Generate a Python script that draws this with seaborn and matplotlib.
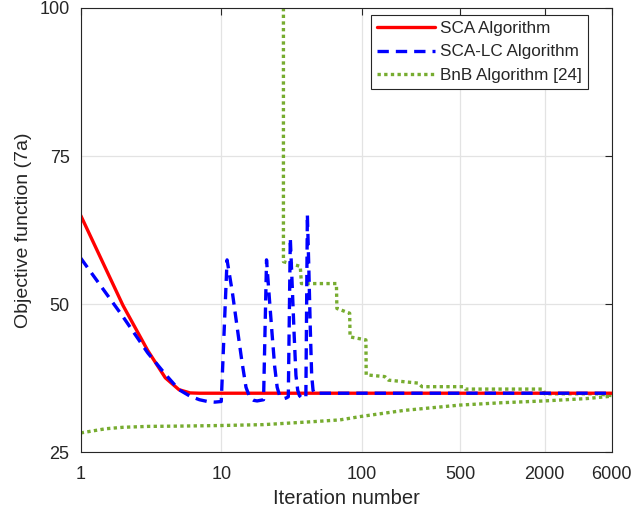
import numpy as np
import pandas as pd
import matplotlib
matplotlib.use("Agg")
import matplotlib.pyplot as plt
from matplotlib.ticker import FixedLocator, FixedFormatter, NullLocator
from matplotlib.lines import Line2D
import seaborn as sns

# SCA algorithm: objective value per iteration
sca_iter = [1, 2, 3, 4, 5, 6, 7, 6000]
sca_obj = [65.0, 49.8, 42.2, 37.6, 35.6, 35.05, 35.0, 35.0]

# SCA-LC algorithm: objective value per iteration
sclc_iter = [1, 2, 3, 4, 5, 6, 7, 8, 9, 10,
             11, 12, 13, 14, 15, 16, 17, 18, 19, 20,
             21, 22, 23, 24, 25, 26, 27, 28, 29, 30,
             31, 32, 33, 34, 35, 36, 37, 38, 39, 40,
             41, 42, 43, 44, 45, 46, 6000]
sclc_obj = [57.8, 47.9, 41.8, 38.2, 35.6, 34.5, 33.9, 33.6, 33.5, 33.6,
            57.5, 52.0, 46.0, 40.5, 36.0, 34.2, 33.8, 33.7, 33.8, 33.9,
            57.5, 51.0, 45.0, 39.5, 36.0, 34.6, 34.2, 34.1, 34.2, 34.4,
            61.2, 53.0, 45.0, 38.0, 35.5, 34.6, 34.3, 34.2, 34.2, 34.2,
            65.2, 56.0, 46.0, 38.0, 35.5, 35.0, 35.0]

# BnB algorithm [24]: upper bound (step-wise) and lower bound
bnb_up_iter = [27.7, 27.7, 36.5, 37.2, 66.0, 66.5, 82.0, 82.5, 107.0, 107.5,
               146, 155, 253, 268, 530, 545, 1950, 2000, 4700, 6000]
bnb_up_obj = [100.0, 57.2, 56.4, 53.5, 53.5, 49.3, 48.5, 44.5, 44.0, 38.1,
              37.8, 37.2, 36.7, 36.1, 36.1, 35.7, 35.7, 34.9, 34.9, 34.6]
bnb_lo_iter = [1, 1.5, 2, 3, 5, 10, 20, 45, 70, 100, 200, 500, 1000, 2000, 4000, 6000]
bnb_lo_obj = [28.3, 29.0, 29.25, 29.4, 29.45, 29.55, 29.7, 30.2, 30.5, 31.1,
              32.1, 33.0, 33.4, 33.7, 34.1, 34.5]

x_ticks = [1, 10, 100, 500, 2000, 6000]
x_tick_labels = ["1", "10", "100", "500", "2000", "6000"]
y_ticks = [25, 50, 75, 100]

labels = ["SCA Algorithm", "SCA-LC Algorithm", "BnB Algorithm [24]"]

sns.set_theme(style="white")
plt.rcParams["font.family"] = ["Liberation Sans", "DejaVu Sans"]
plt.rcParams["text.color"] = "#262626"
plt.rcParams["axes.labelcolor"] = "#262626"
plt.rcParams["xtick.color"] = "#262626"
plt.rcParams["ytick.color"] = "#262626"

red = (1.0, 0.0, 0.0)
blue = (0.0, 0.0, 1.0)
green = (0.466, 0.674, 0.188)
lw = 2.4
blue_dash = (3.4, 2.1)
green_dot = (1.0, 1.0)

fig = plt.figure(figsize=(6.34, 5.16), dpi=100)
ax = fig.add_axes([0.1273, 0.1231, 0.8375, 0.8614])

df_sca = pd.DataFrame({"iter": sca_iter, "obj": sca_obj})
df_lc = pd.DataFrame({"iter": sclc_iter, "obj": sclc_obj})
df_up = pd.DataFrame({"iter": bnb_up_iter, "obj": bnb_up_obj})
df_lo = pd.DataFrame({"iter": bnb_lo_iter, "obj": bnb_lo_obj})

for df in (df_up, df_lo):
    sns.lineplot(data=df, x="iter", y="obj", ax=ax, color=green, lw=lw,
                 sort=False, estimator=None)
    ax.lines[-1].set_dashes(green_dot)
    ax.lines[-1].set_dash_capstyle("butt")
sns.lineplot(data=df_sca, x="iter", y="obj", ax=ax, color=red, lw=lw,
             sort=False, estimator=None)
sns.lineplot(data=df_lc, x="iter", y="obj", ax=ax, color=blue, lw=lw,
             sort=False, estimator=None)
ax.lines[-1].set_dashes(blue_dash)
ax.lines[-1].set_dash_capstyle("butt")

ax.set_xscale("log")
ax.set_xlim(1, 6000)
ax.set_ylim(25, 100)
ax.xaxis.set_major_locator(FixedLocator(x_ticks))
ax.xaxis.set_major_formatter(FixedFormatter(x_tick_labels))
ax.xaxis.set_minor_locator(NullLocator())
ax.yaxis.set_major_locator(FixedLocator(y_ticks))
ax.yaxis.set_minor_locator(NullLocator())

ax.grid(True, which="major", color="#e3e3e3", lw=0.9)
ax.set_axisbelow(True)
for s in ax.spines.values():
    s.set_visible(True)
    s.set_color("#262626")
    s.set_linewidth(0.8)
ax.tick_params(axis="both", which="major", direction="in", length=5, width=0.8,
               top=True, right=True, labelsize=13)
ax.tick_params(axis="x", pad=10)
ax.tick_params(axis="y", pad=8)

ax.set_xlabel("Iteration number", fontsize=14.5, labelpad=4)
ax.set_ylabel("Objective function (7a)", fontsize=14, labelpad=5)

handles = [
    Line2D([], [], color=red, lw=lw),
    Line2D([], [], color=blue, lw=lw, dashes=blue_dash, dash_capstyle="butt"),
    Line2D([], [], color=green, lw=lw, dashes=green_dot, dash_capstyle="butt"),
]
leg = ax.legend(handles, labels, loc="upper right", bbox_to_anchor=(0.9554, 0.9843),
                borderaxespad=0, fontsize=12.3, handlelength=3.4, handletextpad=0.3,
                labelspacing=0.49, borderpad=0.36, fancybox=False, framealpha=1,
                edgecolor="#262626")
leg.get_frame().set_linewidth(0.8)

fig.savefig("out.png", dpi=100)
